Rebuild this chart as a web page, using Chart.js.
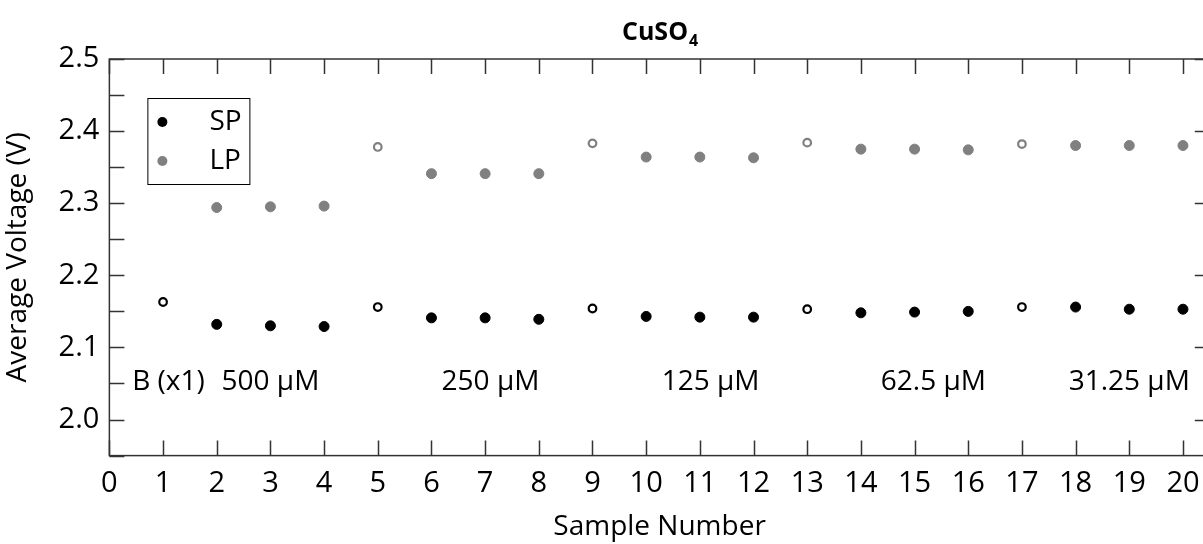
<!DOCTYPE html>
<html>
<head>
<meta charset="utf-8">
<script src="https://cdn.jsdelivr.net/npm/chart.js@4.4.0/dist/chart.umd.min.js"></script>
<style>
  html, body { margin: 0; padding: 0; background: #fff; }
  #wrap { width: 1203px; height: 544px; overflow: hidden; }
</style>
</head>
<body>
<div id="wrap"><canvas id="cuso4" width="1216" height="544"></canvas></div>
<script>
// data
const samples = [1, 2, 3, 4, 5, 6, 7, 8, 9, 10, 11, 12, 13, 14, 15, 16, 17, 18, 19, 20];
const spVoltage = [2.163, 2.132, 2.130, 2.129, 2.156, 2.141, 2.141, 2.139, 2.154, 2.143,
                   2.142, 2.142, 2.153, 2.148, 2.149, 2.150, 2.156, 2.156, 2.153, 2.153];
const lpVoltage = [null, 2.294, 2.295, 2.296, 2.378, 2.341, 2.341, 2.341, 2.383, 2.364,
                   2.364, 2.363, 2.384, 2.375, 2.375, 2.374, 2.382, 2.380, 2.380, 2.380];
const openSamples = [1, 5, 9, 13, 17];   // drawn as hollow markers

const xTicks = [0, 1, 2, 3, 4, 5, 6, 7, 8, 9, 10, 11, 12, 13, 14, 15, 16, 17, 18, 19, 20];
const yTicks = [2.0, 2.1, 2.2, 2.3, 2.4, 2.5];
const yMinorTicks = [1.95, 2.05, 2.15, 2.25, 2.35, 2.45];

const groupLabels = ['B (x1)', '500 μM', '250 μM', '125 μM', '62.5 μM', '31.25 μM'];
const groupLabelX = [1.1, 3.0, 7.1, 11.2, 15.35, 19.0];
const groupLabelY = 2.052;

const FONT = "'Open Sans', sans-serif";
const AXIS = '#333';

function pts(values) {
    return samples.map((s, i) => ({ x: s, y: values[i] }));
}
function fills(color) {
    return samples.map(s => openSamples.includes(s) ? '#fff' : color);
}
function radii() {
    return samples.map(s => openSamples.includes(s) ? 3.8 : 5);
}
function borders() {
    return samples.map(s => openSamples.includes(s) ? 2.2 : 1);
}

const frame = {
    id: 'frame',
    afterDraw(chart) {
        const ctx = chart.ctx;
        const a = chart.chartArea;
        const xs = chart.scales.x, ys = chart.scales.y;
        ctx.save();
        ctx.strokeStyle = AXIS;
        ctx.lineWidth = 1.5;
        ctx.strokeRect(a.left, a.top, a.right - a.left, a.bottom - a.top);

        // inward ticks
        ctx.beginPath();
        xTicks.forEach(v => {
            const px = Math.round(xs.getPixelForValue(v)) + 0.5;
            ctx.moveTo(px, a.bottom); ctx.lineTo(px, a.bottom - 15);
            ctx.moveTo(px, a.top); ctx.lineTo(px, a.top + 15);
        });
        yTicks.concat(yMinorTicks).forEach(v => {
            const py = Math.round(ys.getPixelForValue(v)) + 0.5;
            ctx.moveTo(a.left, py); ctx.lineTo(a.left + 15, py);
        });
        yTicks.forEach(v => {
            const py = Math.round(ys.getPixelForValue(v)) + 0.5;
            ctx.moveTo(a.right, py); ctx.lineTo(a.right - 15, py);
        });
        ctx.stroke();

        // title with subscript
        ctx.fillStyle = '#000';
        ctx.textBaseline = 'alphabetic';
        const main = 'CuSO';
        ctx.font = "bold 25px " + FONT;
        const w1 = ctx.measureText(main).width;
        ctx.font = "bold 16px " + FONT;
        const w2 = ctx.measureText('4').width;
        const cx = (a.left + a.right) / 2;
        const x0 = cx - (w1 + w2) / 2;
        ctx.font = "bold 25px " + FONT;
        ctx.textAlign = 'left';
        ctx.fillText(main, x0, 40);
        ctx.font = "bold 16px " + FONT;
        ctx.fillText('4', x0 + w1 + 1, 46);

        // concentration labels
        ctx.font = "28px " + FONT;
        ctx.textAlign = 'center';
        ctx.textBaseline = 'middle';
        groupLabels.forEach((t, i) => {
            ctx.fillText(t, xs.getPixelForValue(groupLabelX[i]), ys.getPixelForValue(groupLabelY));
        });

        // legend box
        const lx = a.left + 38, ly = a.top + 39;
        ctx.lineWidth = 1;
        ctx.strokeStyle = '#000';
        ctx.strokeRect(lx + 0.5, ly + 0.5, 102, 86);
        ctx.textAlign = 'left';
        chart.data.datasets.forEach((ds, i) => {
            const yy = ly + 24 + i * 39;
            ctx.fillStyle = ds.legendColor;
            ctx.beginPath();
            ctx.arc(lx + 15, yy, 5, 0, Math.PI * 2);
            ctx.fill();
            ctx.fillStyle = '#000';
            ctx.fillText(ds.label, lx + 62, yy);
        });
        ctx.restore();
    }
};

new Chart(document.getElementById('cuso4'), {
    type: 'scatter',
    data: {
        datasets: [
            {
                label: 'SP',
                data: pts(spVoltage),
                legendColor: '#000',
                borderColor: '#000',
                backgroundColor: fills('#000'),
                pointRadius: radii(),
                pointBorderWidth: borders()
            },
            {
                label: 'LP',
                data: pts(lpVoltage),
                legendColor: '#808080',
                borderColor: '#808080',
                backgroundColor: fills('#808080'),
                pointRadius: radii(),
                pointBorderWidth: borders()
            }
        ]
    },
    options: {
        responsive: false,
        animation: false,
        layout: { padding: { top: 59, right: 3, left: 1, bottom: 0 } },
        plugins: {
            legend: { display: false },
            title: { display: false },
            tooltip: { enabled: false }
        },
        scales: {
            x: {
                type: 'linear',
                min: 0,
                max: 20.5,
                afterBuildTicks: s => { s.ticks = xTicks.map(v => ({ value: v })); },
                grid: { display: false, drawTicks: false },
                border: { display: false },
                ticks: {
                    padding: 11,
                    color: '#000',
                    font: { family: FONT, size: 29 },
                    callback: v => String(v)
                },
                title: {
                    display: true,
                    text: 'Sample Number',
                    color: '#000',
                    font: { family: FONT, size: 28 },
                    padding: { top: -2, bottom: 0 }
                }
            },
            y: {
                min: 1.95,
                max: 2.5,
                afterBuildTicks: s => { s.ticks = yTicks.map(v => ({ value: v })); },
                grid: { display: false, drawTicks: false },
                border: { display: false },
                ticks: {
                    padding: 10,
                    color: '#000',
                    font: { family: FONT, size: 29 },
                    callback: v => v.toFixed(1)
                },
                title: {
                    display: true,
                    text: 'Average Voltage (V)',
                    color: '#000',
                    font: { family: FONT, size: 28 },
                    padding: { top: 0, bottom: 14 }
                }
            }
        }
    },
    plugins: [frame]
});
</script>
</body>
</html>
